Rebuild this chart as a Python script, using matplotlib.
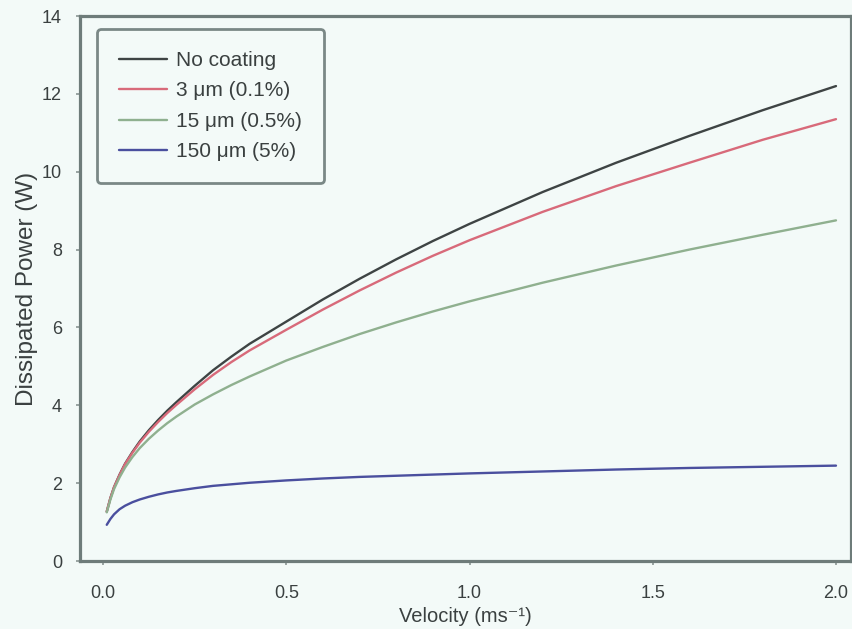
import matplotlib
matplotlib.use("Agg")
import matplotlib.pyplot as plt

velocity = [0.01, 0.02, 0.03, 0.045, 0.06, 0.08, 0.1, 0.125, 0.15, 0.175, 0.2, 0.25, 0.3,
            0.35, 0.4, 0.5, 0.6, 0.7, 0.8, 0.9, 1.0, 1.2, 1.4, 1.6, 1.8, 2.0]
no_coating = [1.27, 1.62, 1.90, 2.22, 2.50, 2.80, 3.07, 3.36, 3.62, 3.86, 4.08, 4.50, 4.90,
              5.25, 5.58, 6.15, 6.72, 7.25, 7.75, 8.22, 8.66, 9.48, 10.23, 10.92, 11.58, 12.2]
coat_3um = [1.27, 1.62, 1.90, 2.21, 2.49, 2.78, 3.04, 3.32, 3.57, 3.80, 4.01, 4.41, 4.78,
            5.11, 5.41, 5.94, 6.46, 6.95, 7.41, 7.84, 8.24, 8.97, 9.63, 10.23, 10.82, 11.35]
coat_15um = [1.25, 1.58, 1.85, 2.15, 2.40, 2.67, 2.90, 3.14, 3.35, 3.54, 3.71, 4.02, 4.28,
             4.52, 4.74, 5.15, 5.50, 5.83, 6.13, 6.41, 6.67, 7.15, 7.59, 8.00, 8.38, 8.75]
coat_150um = [0.93, 1.08, 1.20, 1.33, 1.42, 1.51, 1.58, 1.65, 1.71, 1.76, 1.80, 1.87, 1.93,
              1.97, 2.01, 2.07, 2.12, 2.16, 2.19, 2.22, 2.25, 2.30, 2.35, 2.39, 2.42, 2.45]

labels = ["No coating", "3 \u03bcm (0.1%)", "15 \u03bcm (0.5%)", "150 \u03bcm (5%)"]
colors = ["#3e4444", "#d86a7a", "#8fb08f", "#4a4f9e"]
xticks = [0.0, 0.5, 1.0, 1.5, 2.0]
yticks = [0, 2, 4, 6, 8, 10, 12, 14]

bg = "#f3faf8"
spine_c = "#6e7c7a"
txt_c = "#3a4040"
plt.rcParams['font.family'] = ['Liberation Sans', 'DejaVu Sans']

fig = plt.figure(figsize=(8.52, 6.29), dpi=100, facecolor=bg)
ax = fig.add_axes([80/852, 1-561/629, 771/852, 545/629])
ax.set_facecolor(bg)

for y, lab, c in zip([no_coating, coat_3um, coat_15um, coat_150um], labels, colors):
    ax.plot(velocity, y, color=c, lw=1.7, label=lab, solid_capstyle='round')

ax.set_xlim(-0.063, 2.041)
ax.set_ylim(0, 14)
ax.set_xticks(xticks)
ax.set_xticklabels([f"{t:.1f}" for t in xticks])
ax.set_yticks(yticks)
for s in ax.spines.values():
    s.set_color(spine_c)
    s.set_linewidth(2.3)
ax.tick_params(axis='both', colors="#8a9694", length=3, width=1.2, labelsize=13,
               labelcolor=txt_c)
ax.tick_params(axis='x', pad=14)
ax.tick_params(axis='y', pad=10)

ax.set_xlabel("Velocity (ms\u207b\u00b9)", fontsize=14.5, color=txt_c, labelpad=4)
ax.set_ylabel("Dissipated Power (W)", fontsize=17.5, color=txt_c, labelpad=3)

leg = ax.legend(loc='upper left', bbox_to_anchor=(0.022, 0.976), fontsize=15,
                frameon=True, fancybox=True, handlelength=2.3, handletextpad=0.45,
                labelspacing=0.55, borderpad=1.05, borderaxespad=0.0)
leg.get_frame().set_edgecolor("#7a8886")
leg.get_frame().set_linewidth(2)
leg.get_frame().set_facecolor(bg)
leg.get_frame().set_alpha(1)
for t in leg.get_texts():
    t.set_color(txt_c)

fig.savefig("out.png", dpi=100, facecolor=bg)
